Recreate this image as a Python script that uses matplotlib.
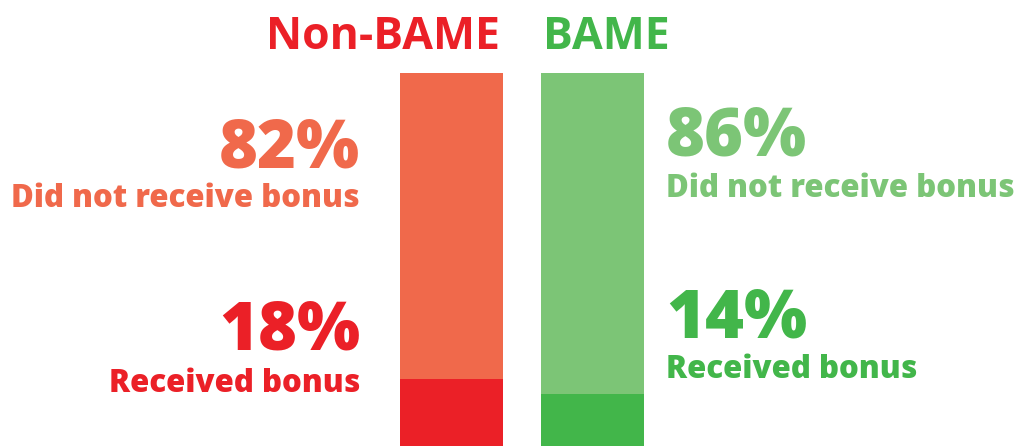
import matplotlib
matplotlib.use("Agg")
import matplotlib.pyplot as plt

# data
groups = ["Non-BAME", "BAME"]
received = [18, 14]
not_received = [82, 86]
label_received = "Received bonus"
label_not = "Did not receive bonus"

light = ["#F0694B", "#7CC576"]
dark = ["#EB2027", "#42B64A"]

W, H = 1019, 446
fig = plt.figure(figsize=(W / 100, H / 100), dpi=100)

# bar axes: bottom of figure up to the top of the bars (pixel 73)
ax = fig.add_axes([0, 0, 1, (H - 73) / H])
ax.set_xlim(0, W)
ax.set_ylim(0, 100)
ax.axis("off")

centers = [451.5, 592.5]
ax.bar(centers, received, width=103, color=dark, linewidth=0)
ax.bar(centers, not_received, bottom=received, width=103, color=light, linewidth=0)


def px(x, y):
    return x / W, 1 - y / H


body = ["Open Sans", "DejaVu Sans"]
wt = 800
num_size = 48
lab_size = 22.5

# titles
fig.text(*px(500, 49), groups[0], ha="right", va="baseline", color=dark[0],
         fontsize=32, fontweight="bold", family=body)
fig.text(*px(543, 49), groups[1], ha="left", va="baseline", color=dark[1],
         fontsize=32, fontweight="bold", family=body)

# left side (Non-BAME)
fig.text(*px(360, 167), f"{not_received[0]}%", ha="right", va="baseline",
         color=light[0], fontsize=num_size, fontweight=wt, family=body)
fig.text(*px(360, 207), label_not, ha="right", va="baseline",
         color=light[0], fontsize=lab_size, fontweight=wt, family=body)
fig.text(*px(360, 350), f"{received[0]}%", ha="right", va="baseline",
         color=dark[0], fontsize=num_size, fontweight=wt, family=body)
fig.text(*px(360, 392), label_received, ha="right", va="baseline",
         color=dark[0], fontsize=lab_size, fontweight=wt, family=body)

# right side (BAME)
fig.text(*px(666, 155), f"{not_received[1]}%", ha="left", va="baseline",
         color=light[1], fontsize=num_size, fontweight=wt, family=body)
fig.text(*px(666, 197), label_not, ha="left", va="baseline",
         color=light[1], fontsize=lab_size, fontweight=wt, family=body)
fig.text(*px(666, 337), f"{received[1]}%", ha="left", va="baseline",
         color=dark[1], fontsize=num_size, fontweight=wt, family=body)
fig.text(*px(666, 378), label_received, ha="left", va="baseline",
         color=dark[1], fontsize=lab_size, fontweight=wt, family=body)

fig.savefig("out.png", dpi=100)
